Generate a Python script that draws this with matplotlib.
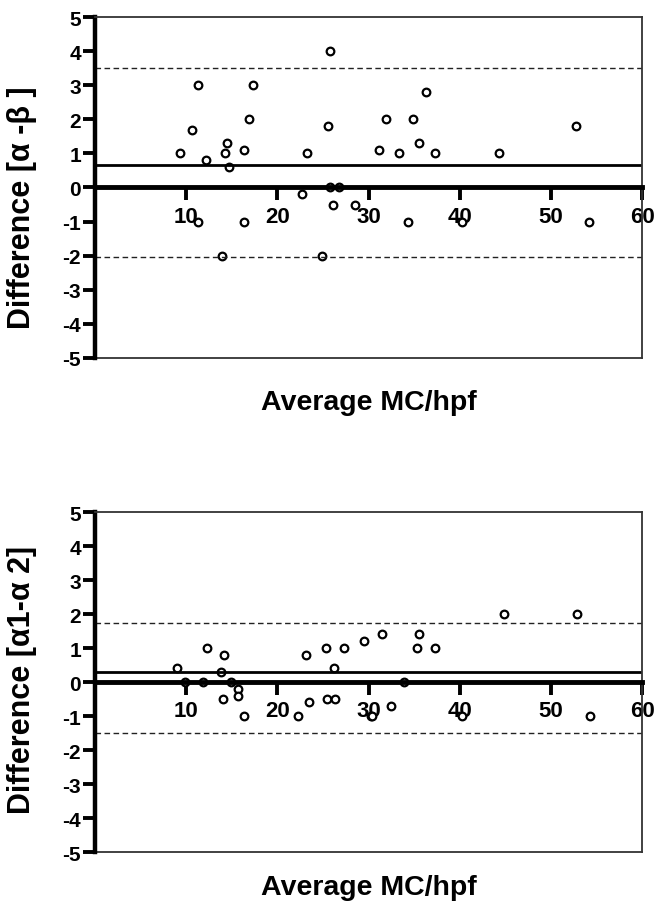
import matplotlib
matplotlib.use("Agg")
import matplotlib.pyplot as plt
from matplotlib.lines import Line2D

plt.rcParams['font.family'] = ['Liberation Sans', 'DejaVu Sans']
plt.rcParams['font.weight'] = 'bold'
plt.rcParams['axes.unicode_minus'] = False

# Bland-Altman data: mean of two counts (MC/hpf) vs. their difference
ab_avg = [9.3, 10.7, 11.3, 11.3, 12.2, 14.3, 14.5, 14.7, 13.9, 16.3, 16.3, 16.9,
          17.3, 22.7, 23.3, 24.9, 25.6, 25.8, 25.8, 26.1, 26.8, 28.5, 31.2, 31.9,
          33.3, 34.3, 34.9, 35.5, 36.3, 37.3, 40.2, 44.3, 52.7, 54.2]
ab_diff = [1, 1.7, 3, -1, 0.8, 1, 1.3, 0.6, -2, 1.1, -1, 2,
           3, -0.2, 1, -2, 1.8, 4, 0, -0.5, 0, -0.5, 1.1, 2,
           1, -1, 2, 1.3, 2.8, 1, -1, 1, 1.8, -1]
ab_bias = 0.67
ab_limits = [3.5, -2.03]

aa_avg = [9.0, 9.9, 11.9, 12.3, 13.8, 14.2, 14.1, 14.9, 15.7, 15.7, 16.3, 22.3,
          23.5, 23.2, 25.3, 26.2, 25.5, 26.3, 27.3, 29.5, 30.3, 30.4, 31.5, 32.5,
          33.9, 35.5, 35.3, 37.3, 40.2, 44.9, 52.9, 54.3]
aa_diff = [0.4, 0, 0, 1, 0.3, 0.8, -0.5, 0, -0.2, -0.4, -1, -1,
           -0.6, 0.8, 1, 0.4, -0.5, -0.5, 1, 1.2, -1, -1, 1.4, -0.7,
           0, 1.4, 1, 1, -1, 2, 2, -1]
aa_bias = 0.31
aa_limits = [1.74, -1.51]

x_ticks = [10, 20, 30, 40, 50, 60]
y_ticks = [-5, -4, -3, -2, -1, 0, 1, 2, 3, 4, 5]

fig = plt.figure(figsize=(6.54, 9.04), dpi=100)

panels = [
    (ab_avg, ab_diff, ab_bias, ab_limits, "Difference [α -β ]",
     [0.145, 0.603, 0.837, 0.377], 0.444, -0.13),
    (aa_avg, aa_diff, aa_bias, aa_limits, "Difference [α1-α 2]",
     [0.145, 0.0564, 0.837, 0.376], 0.51, -0.103),
]

for avg, diff, bias, limits, ylab, rect, ylab_y, xlab_y in panels:
    ax = fig.add_axes(rect)
    ax.set_xlim(0, 60)
    ax.set_ylim(-5, 5)

    # frame: heavy left spine, x axis through zero, thin box elsewhere
    ax.spines['left'].set_linewidth(3.2)
    ax.spines['bottom'].set_position(('data', 0))
    ax.spines['bottom'].set_linewidth(3.5)
    ax.spines['bottom'].set_zorder(3)
    for side in ('top', 'right'):
        ax.spines[side].set_linewidth(1.3)
        ax.spines[side].set_color('#333333')
    ax.add_line(Line2D([0, 1], [0, 0], transform=ax.transAxes, color='#333333',
                       lw=1.3, clip_on=False))

    ax.axhline(bias, color='black', lw=2.0, zorder=2.5)
    for lim in limits:
        ax.axhline(lim, color='#222222', lw=1.0, ls=(0, (4, 2.5)), zorder=2.5)

    ax.plot(avg, diff, ls='none', marker='o', ms=5.5, mfc='white', mec='black',
            mew=1.6, zorder=2, clip_on=False)

    ax.set_xticks(x_ticks)
    ax.set_yticks(y_ticks)
    ax.tick_params(axis='x', direction='out', length=9, width=2.8, pad=4,
                   labelsize=16)
    ax.tick_params(axis='y', direction='out', length=9, width=2.8, pad=1,
                   labelsize=15)
    for lbl in ax.get_xticklabels() + ax.get_yticklabels():
        lbl.set_fontweight('bold')

    ax.set_ylabel(ylab, fontsize=22, fontweight='bold')
    ax.yaxis.set_label_coords(-0.106, ylab_y)
    ax.text(0.5, xlab_y, "Average MC/hpf", transform=ax.transAxes,
            ha='center', va='center', fontsize=20.5, fontweight='bold')

fig.savefig("out.png", dpi=100)
